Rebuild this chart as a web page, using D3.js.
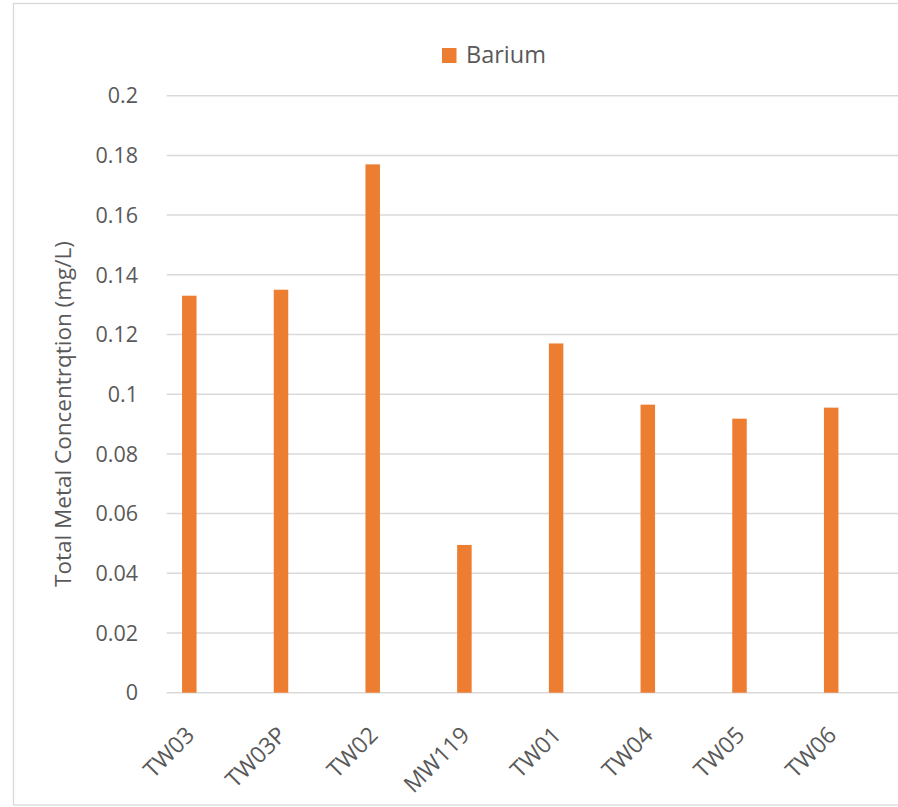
<!DOCTYPE html>
<html>
<head>
<meta charset="utf-8">
<script src="https://cdn.jsdelivr.net/npm/d3@7"></script>
<style>
  html, body { margin: 0; padding: 0; background: #fff; }
  svg { display: block; }
  text { font-family: "Open Sans", "DejaVu Sans", sans-serif; fill: #595959; }
</style>
</head>
<body>
<svg id="chart" width="898" height="807"></svg>
<script>
const categories = ["TW03", "TW03P", "TW02", "MW119", "TW01", "TW04", "TW05", "TW06"];
const seriesName = "Barium";
const bariumValues = [0.133, 0.135, 0.177, 0.0495, 0.117, 0.0965, 0.0918, 0.0955];
const yTickValues = [0, 0.02, 0.04, 0.06, 0.08, 0.1, 0.12, 0.14, 0.16, 0.18, 0.2];
const yTickLabels = ["0", "0.02", "0.04", "0.06", "0.08", "0.1", "0.12", "0.14", "0.16", "0.18", "0.2"];
const yTitle = "Total Metal Concentrqtion (mg/L)";

const svg = d3.select("#chart");
const color = "#ED7D31";
const gridColor = "#d9d9d9";

// chart border
svg.append("rect")
  .attr("x", 13.5).attr("y", 3.5)
  .attr("width", 900).attr("height", 801.5)
  .attr("fill", "none").attr("stroke", gridColor).attr("stroke-width", 1.3);

const plotLeft = 166.7, plotRight = 900;
const y = d3.scaleLinear().domain([0, 0.2]).range([692.7, 95.7]);
const x = d3.scalePoint().domain(categories).range([189.3, 831.2]);
const barW = 14.5;

// gridlines
svg.append("g").selectAll("line")
  .data(yTickValues)
  .join("line")
  .attr("x1", plotLeft).attr("x2", plotRight)
  .attr("y1", d => y(d)).attr("y2", d => y(d))
  .attr("stroke", gridColor).attr("stroke-width", 1.5);

// y tick labels
svg.append("g").selectAll("text")
  .data(yTickValues)
  .join("text")
  .attr("x", 138)
  .attr("y", d => y(d))
  .attr("dy", "0.36em")
  .attr("text-anchor", "end")
  .attr("font-size", 21.5)
  .text((d, i) => yTickLabels[i]);

// bars
svg.append("g").selectAll("rect")
  .data(bariumValues)
  .join("rect")
  .attr("x", (d, i) => x(categories[i]) - barW / 2)
  .attr("width", barW)
  .attr("y", d => y(d))
  .attr("height", d => y(0) - y(d))
  .attr("fill", color);

// x labels
svg.append("g").selectAll("text")
  .data(categories)
  .join("text")
  .attr("transform", d => `translate(${x(d) - 5},${725}) rotate(-45)`)
  .attr("dy", "0.71em")
  .attr("text-anchor", "end")
  .attr("font-size", 23)
  .text(d => d);

// y title
svg.append("text")
  .attr("transform", "translate(71,414) rotate(-90)")
  .attr("text-anchor", "middle")
  .attr("font-size", 22.5)
  .text(yTitle);

// legend
svg.append("rect")
  .attr("x", 442).attr("y", 48)
  .attr("width", 14.5).attr("height", 15)
  .attr("fill", color);
svg.append("text")
  .attr("x", 466).attr("y", 63)
  .attr("font-size", 23.5)
  .text(seriesName);
</script>
</body>
</html>
